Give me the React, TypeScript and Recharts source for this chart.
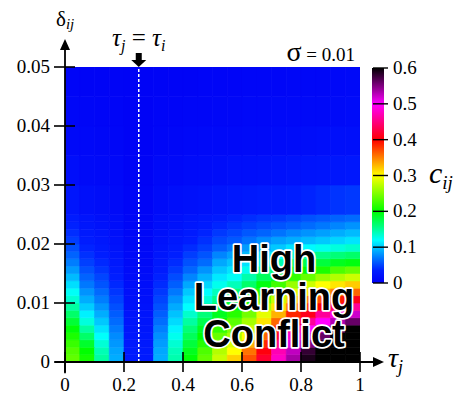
import { Bar, BarChart, Cell, ReferenceDot, ReferenceLine, XAxis, YAxis } from "recharts";

// column centres along tau_j (cell width 0.05)
const tauCenters = [
  0.025, 0.075, 0.125, 0.175, 0.225, 0.275, 0.325, 0.375, 0.425, 0.475,
  0.525, 0.575, 0.625, 0.675, 0.725, 0.775, 0.825, 0.875, 0.925, 0.975,
];

// row edges along delta_ij (finer near the bottom)
const deltaEdges = [
  0, 0.00125, 0.0025, 0.00375, 0.005, 0.00625, 0.0075, 0.00875, 0.01, 0.01125,
  0.0125, 0.01375, 0.015, 0.01625, 0.0175, 0.01875, 0.02, 0.02125, 0.0225, 0.02375,
  0.025, 0.03, 0.035, 0.04, 0.045, 0.05,
];

// c_ij per column (one list per tau column, bottom row first)
const cGrid = [
  [0.238, 0.232, 0.222, 0.21, 0.198, 0.182, 0.165, 0.148, 0.133, 0.122, 0.108, 0.095, 0.083, 0.072, 0.062, 0.054, 0.047, 0.041, 0.036, 0.032, 0.024, 0.016, 0.011, 0.008, 0.006],
  [0.208, 0.2, 0.185, 0.165, 0.148, 0.13, 0.115, 0.102, 0.09, 0.08, 0.07, 0.062, 0.055, 0.048, 0.042, 0.037, 0.033, 0.029, 0.026, 0.023, 0.018, 0.012, 0.009, 0.007, 0.005],
  [0.148, 0.142, 0.132, 0.121, 0.11, 0.1, 0.09, 0.081, 0.072, 0.064, 0.056, 0.05, 0.044, 0.039, 0.034, 0.03, 0.027, 0.024, 0.021, 0.019, 0.015, 0.01, 0.008, 0.006, 0.005],
  [0.09, 0.087, 0.082, 0.077, 0.071, 0.065, 0.059, 0.054, 0.049, 0.044, 0.039, 0.035, 0.031, 0.028, 0.025, 0.022, 0.02, 0.018, 0.016, 0.015, 0.012, 0.009, 0.007, 0.006, 0.005],
  [0.03, 0.03, 0.029, 0.027, 0.026, 0.024, 0.022, 0.02, 0.019, 0.017, 0.016, 0.014, 0.013, 0.012, 0.011, 0.01, 0.009, 0.008, 0.008, 0.007, 0.006, 0.005, 0.004, 0.003, 0.003],
  [0.03, 0.03, 0.029, 0.028, 0.026, 0.025, 0.023, 0.021, 0.019, 0.018, 0.016, 0.015, 0.013, 0.012, 0.011, 0.01, 0.009, 0.009, 0.008, 0.007, 0.006, 0.005, 0.004, 0.003, 0.003],
  [0.09, 0.088, 0.084, 0.079, 0.073, 0.066, 0.06, 0.055, 0.05, 0.045, 0.04, 0.036, 0.032, 0.029, 0.026, 0.023, 0.021, 0.019, 0.017, 0.016, 0.013, 0.01, 0.007, 0.006, 0.005],
  [0.144, 0.14, 0.133, 0.125, 0.116, 0.107, 0.098, 0.089, 0.08, 0.07, 0.06, 0.053, 0.046, 0.04, 0.035, 0.031, 0.028, 0.025, 0.022, 0.02, 0.016, 0.011, 0.008, 0.006, 0.005],
  [0.198, 0.19, 0.18, 0.17, 0.16, 0.148, 0.135, 0.12, 0.11, 0.1, 0.088, 0.075, 0.063, 0.055, 0.047, 0.04, 0.034, 0.03, 0.027, 0.024, 0.019, 0.013, 0.009, 0.007, 0.005],
  [0.238, 0.23, 0.215, 0.2, 0.19, 0.175, 0.16, 0.145, 0.132, 0.12, 0.105, 0.092, 0.08, 0.065, 0.056, 0.048, 0.042, 0.037, 0.032, 0.028, 0.021, 0.014, 0.01, 0.007, 0.006],
  [0.278, 0.27, 0.255, 0.24, 0.22, 0.2, 0.19, 0.17, 0.155, 0.14, 0.125, 0.112, 0.1, 0.088, 0.075, 0.06, 0.052, 0.045, 0.038, 0.032, 0.024, 0.015, 0.01, 0.008, 0.006],
  [0.318, 0.3, 0.285, 0.265, 0.25, 0.235, 0.215, 0.195, 0.18, 0.16, 0.14, 0.122, 0.11, 0.098, 0.085, 0.07, 0.058, 0.05, 0.043, 0.037, 0.027, 0.017, 0.011, 0.008, 0.006],
  [0.368, 0.355, 0.33, 0.3, 0.28, 0.265, 0.245, 0.225, 0.205, 0.19, 0.165, 0.145, 0.125, 0.11, 0.095, 0.083, 0.068, 0.057, 0.048, 0.041, 0.029, 0.018, 0.012, 0.009, 0.007],
  [0.418, 0.405, 0.385, 0.36, 0.335, 0.31, 0.29, 0.265, 0.24, 0.215, 0.195, 0.17, 0.15, 0.125, 0.11, 0.092, 0.078, 0.062, 0.052, 0.044, 0.031, 0.019, 0.012, 0.009, 0.007],
  [0.478, 0.47, 0.45, 0.42, 0.39, 0.36, 0.33, 0.31, 0.28, 0.255, 0.225, 0.195, 0.17, 0.145, 0.12, 0.1, 0.085, 0.068, 0.056, 0.046, 0.032, 0.02, 0.013, 0.01, 0.007],
  [0.535, 0.525, 0.51, 0.485, 0.46, 0.42, 0.385, 0.35, 0.32, 0.29, 0.26, 0.22, 0.19, 0.165, 0.135, 0.11, 0.09, 0.075, 0.06, 0.05, 0.034, 0.022, 0.014, 0.01, 0.008],
  [0.59, 0.58, 0.55, 0.52, 0.5, 0.46, 0.41, 0.38, 0.35, 0.31, 0.28, 0.24, 0.2, 0.175, 0.145, 0.118, 0.095, 0.08, 0.065, 0.055, 0.037, 0.023, 0.015, 0.011, 0.008],
  [0.64, 0.62, 0.59, 0.56, 0.53, 0.5, 0.46, 0.4, 0.37, 0.33, 0.3, 0.26, 0.21, 0.18, 0.155, 0.125, 0.1, 0.085, 0.07, 0.058, 0.04, 0.025, 0.016, 0.011, 0.008],
  [0.69, 0.67, 0.64, 0.6, 0.57, 0.53, 0.49, 0.44, 0.39, 0.35, 0.31, 0.27, 0.23, 0.19, 0.16, 0.13, 0.105, 0.09, 0.075, 0.062, 0.043, 0.026, 0.017, 0.012, 0.009],
  [0.74, 0.72, 0.69, 0.65, 0.61, 0.56, 0.52, 0.46, 0.41, 0.36, 0.32, 0.28, 0.24, 0.195, 0.165, 0.135, 0.11, 0.095, 0.08, 0.065, 0.045, 0.027, 0.018, 0.013, 0.01],
];

const xTicks = [0, 0.2, 0.4, 0.6, 0.8, 1];
const yTicks = [0, 0.01, 0.02, 0.03, 0.04, 0.05];
const cbTicks = [0, 0.1, 0.2, 0.3, 0.4, 0.5, 0.6];
const cbMax = 0.6;
const tauI = 0.25;
const sigmaText = "= 0.01";
const bigLabel = ["High", "Learning", "Conflict"];

// colour scale of the bar on the right
const cmapStops: [number, number[]][] = [
  [0, [0, 0, 245]],
  [0.035, [0, 30, 255]],
  [0.07, [0, 120, 255]],
  [0.1, [0, 200, 255]],
  [0.12, [0, 255, 255]],
  [0.16, [0, 255, 120]],
  [0.2, [0, 255, 0]],
  [0.25, [128, 255, 0]],
  [0.3, [255, 255, 0]],
  [0.35, [255, 128, 0]],
  [0.4, [255, 0, 0]],
  [0.45, [255, 0, 128]],
  [0.5, [255, 0, 255]],
  [0.55, [128, 0, 128]],
  [0.6, [0, 0, 0]],
];

function toRgb(c: number[]) {
  return `rgb(${Math.round(c[0])},${Math.round(c[1])},${Math.round(c[2])})`;
}

function cmap(v: number) {
  if (v <= cmapStops[0][0]) return toRgb(cmapStops[0][1]);
  for (let k = 1; k < cmapStops.length; k++) {
    const [v1, c1] = cmapStops[k];
    if (v <= v1) {
      const [v0, c0] = cmapStops[k - 1];
      const t = (v - v0) / (v1 - v0);
      return toRgb(c0.map((a, i) => a + (c1[i] - a) * t));
    }
  }
  return toRgb(cmapStops[cmapStops.length - 1][1]);
}

const rows = tauCenters.map((tau) => {
  const row: Record<string, number> = { tau };
  for (let i = 0; i < deltaEdges.length - 1; i++) row[`s${i}`] = deltaEdges[i + 1] - deltaEdges[i];
  return row;
});

const serif = "Liberation Serif, DejaVu Serif, Times New Roman, serif";
const sans = "Liberation Sans, Arial, DejaVu Sans, sans-serif";

function XTick(props: any) {
  const { x, y, payload } = props;
  return (
    <g>
      <line x1={x} x2={x} y1={y - 10} y2={y + 10} stroke="#000" strokeWidth={1.6} />
      <text x={x} y={y + 29} textAnchor="middle" style={{ fontFamily: serif, fontSize: 19 }} fill="#000">
        {String(payload.value)}
      </text>
    </g>
  );
}

function YTick(props: any) {
  const { x, y, payload } = props;
  return (
    <g>
      <line x1={x - 11} x2={x + 10} y1={y} y2={y} stroke="#000" strokeWidth={1.6} />
      <text x={x - 15} y={y + 6} textAnchor="end" style={{ fontFamily: serif, fontSize: 19 }} fill="#000">
        {String(payload.value)}
      </text>
    </g>
  );
}

function CbTick(props: any) {
  const { x, y, payload } = props;
  return (
    <g>
      <line x1={x - 11} x2={x + 4} y1={y} y2={y} stroke="#000" strokeWidth={1.4} />
      <text x={x + 9} y={y + 6} textAnchor="start" style={{ fontFamily: serif, fontSize: 19 }} fill="#000">
        {String(payload.value)}
      </text>
    </g>
  );
}

function UpArrow(props: any) {
  const { cx, cy } = props;
  return <polygon points={`${cx - 5},${cy} ${cx},${cy - 11} ${cx + 5},${cy}`} fill="#000" />;
}

function RightArrow(props: any) {
  const { cx, cy } = props;
  return <polygon points={`${cx},${cy - 5} ${cx + 11},${cy} ${cx},${cy + 5}`} fill="#000" />;
}

function TauMarker(props: any) {
  const { cx, cy } = props;
  return (
    <g>
      <rect x={cx - 3} y={cy - 14} width={6} height={7} fill="#000" />
      <polygon points={`${cx - 7.5},${cy - 7} ${cx + 7.5},${cy - 7} ${cx},${cy}`} fill="#000" />
      <text x={cx} y={cy - 21} textAnchor="middle" style={{ fontFamily: serif, fontSize: 25 }} fill="#000">
        <tspan fontStyle="italic">τ</tspan>
        <tspan fontStyle="italic" fontSize={16} dy={5}>j</tspan>
        <tspan dy={-5}> = </tspan>
        <tspan fontStyle="italic">τ</tspan>
        <tspan fontStyle="italic" fontSize={16} dy={5}>i</tspan>
      </text>
    </g>
  );
}

function HeatMap() {
  return (
    <BarChart
      width={456}
      height={394}
      data={rows}
      margin={{ top: 67, right: 96, bottom: 0, left: 0 }}
      barCategoryGap={0}
      barGap={0}
    >
      <XAxis
        dataKey="tau"
        type="number"
        domain={[0, 1]}
        ticks={xTicks}
        interval={0}
        height={32}
        axisLine={false}
        tickLine={false}
        tickSize={0}
        tickMargin={0}
        tick={XTick}
        allowDataOverflow
      />
      <YAxis
        type="number"
        domain={[0, 0.05]}
        ticks={yTicks}
        interval={0}
        width={65}
        axisLine={false}
        tickLine={false}
        tickSize={0}
        tickMargin={0}
        tick={YTick}
        allowDataOverflow
      />
      {deltaEdges.slice(1).map((_, i) => (
        <Bar key={i} dataKey={`s${i}`} stackId="heat" isAnimationActive={false}>
          {tauCenters.map((t, j) => {
            const col = cmap(cGrid[j][i]);
            return <Cell key={t} fill={col} stroke={col} strokeWidth={0.6} />;
          })}
        </Bar>
      ))}
      <ReferenceLine x={tauI} stroke="#fff" strokeWidth={1.5} strokeDasharray="3 2" />
      <ReferenceLine
        segment={[{ x: -0.034, y: 0 }, { x: 1.05, y: 0 }]}
        stroke="#000"
        strokeWidth={1.8}
        ifOverflow="visible"
      />
      <ReferenceLine
        segment={[{ x: 0, y: -0.0019 }, { x: 0, y: 0.0532 }]}
        stroke="#000"
        strokeWidth={1.8}
        ifOverflow="visible"
      />
      <ReferenceDot x={0} y={0.0529} ifOverflow="visible" shape={UpArrow} />
      <ReferenceDot x={1.044} y={0} ifOverflow="visible" shape={RightArrow} />
      <ReferenceDot x={tauI} y={0.05} ifOverflow="visible" shape={TauMarker} />
    </BarChart>
  );
}

function ColorBar() {
  return (
    <BarChart
      width={84}
      height={300}
      data={[{ name: "c", v: cbMax }]}
      margin={{ top: 68, right: 0, bottom: 17, left: 0 }}
      barCategoryGap={0}
    >
      <defs>
        <linearGradient id="cbGrad" x1="0" y1="1" x2="0" y2="0">
          {cmapStops.map(([v, c]) => (
            <stop key={v} offset={v / cbMax} stopColor={toRgb(c)} />
          ))}
        </linearGradient>
      </defs>
      <XAxis dataKey="name" hide />
      <YAxis
        orientation="right"
        type="number"
        domain={[0, cbMax]}
        ticks={cbTicks}
        interval={0}
        width={72}
        axisLine={false}
        tickLine={false}
        tickSize={0}
        tickMargin={0}
        tick={CbTick}
      />
      <Bar dataKey="v" fill="url(#cbGrad)" isAnimationActive={false} />
    </BarChart>
  );
}

export default function App() {
  return (
    <div style={{ position: "absolute", left: 0, top: 0, width: 456, height: 394, background: "#fff" }}>
      <div style={{ position: "absolute", left: 0, top: 0 }}>
        <HeatMap />
      </div>
      <div style={{ position: "absolute", left: 372, top: 0 }}>
        <ColorBar />
      </div>
      <svg
        width={456}
        height={394}
        style={{ position: "absolute", left: 0, top: 0, pointerEvents: "none" }}
      >
        <text x={56} y={26} style={{ fontFamily: serif, fontSize: 21 }} fill="#000">
          δ<tspan fontStyle="italic" fontSize={15} dy={3}>ij</tspan>
        </text>
        <text x={388} y={367} style={{ fontFamily: serif, fontSize: 28, fontStyle: "italic" }} fill="#000">
          τ<tspan fontSize={18} dy={6}>j</tspan>
        </text>
        <text x={429} y={183} style={{ fontFamily: serif, fontSize: 30, fontStyle: "italic" }} fill="#000">
          c<tspan fontSize={19} dy={6}>ij</tspan>
        </text>
        <text x={355} y={61} textAnchor="end" style={{ fontFamily: serif }} fill="#000">
          <tspan fontSize={28}>σ</tspan>
          <tspan fontSize={19}> {sigmaText}</tspan>
        </text>
        {bigLabel.map((w, k) => (
          <text
            key={w}
            x={274}
            y={272 + k * 37.5}
            textAnchor="middle"
            style={{ fontFamily: sans, fontWeight: "bold", fontSize: 38 }}
            fill="#000"
            stroke="#fff"
            strokeWidth={3.5}
            paintOrder="stroke"
            strokeLinejoin="round"
          >
            {w}
          </text>
        ))}
      </svg>
    </div>
  );
}
